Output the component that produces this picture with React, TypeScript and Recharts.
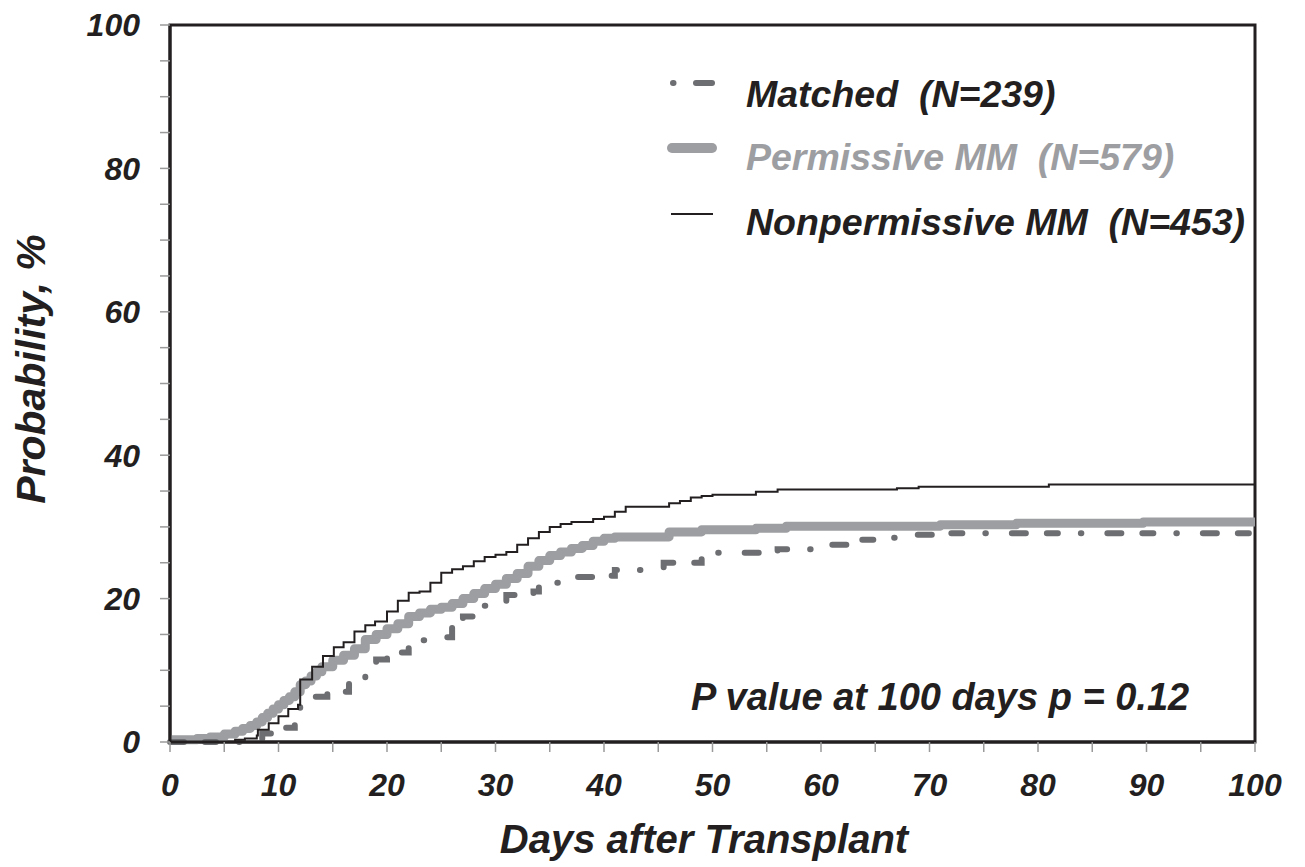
import React from "react";
import { ComposedChart, Line, XAxis, YAxis, ReferenceArea } from "recharts";

const FONT = '"Liberation Sans", Arial, Helvetica, sans-serif';

// Tick values
const xTicks = [0, 5, 10, 15, 20, 25, 30, 35, 40, 45, 50, 55, 60, 65, 70, 75, 80, 85, 90, 95, 100];
const xLabels = [0, 10, 20, 30, 40, 50, 60, 70, 80, 90, 100];
const yTicks = [0, 5, 10, 15, 20, 25, 30, 35, 40, 45, 50, 55, 60, 65, 70, 75, 80, 85, 90, 95, 100];
const yLabels = [0, 20, 40, 60, 80, 100];

// Matched (N=239)
const matchedDays = [0, 7, 8.5, 9.5, 11.5, 12, 12.6, 14.5, 16.5, 17, 18, 19, 20, 21, 22, 23, 24.5, 26, 27, 28, 29, 30, 31, 33.5, 34, 36, 40.5, 41, 43.5, 45.5, 49, 56, 61, 63.5, 66.5, 68, 72, 100];
const matchedProb = [0, 0.4, 1.2, 2, 2.5, 5.5, 6.3, 7, 8.5, 9, 10.5, 11.5, 12.2, 12.5, 13.5, 14.2, 14.6, 17, 17.5, 18.4, 19, 19.5, 20.5, 21, 22.2, 23, 23.2, 24, 24.3, 25, 26.4, 26.9, 27.5, 28.2, 28.5, 28.9, 29.1, 29.2];

// Permissive MM (N=579)
const permDays = [0, 1, 2.5, 3.7, 5, 6, 6.7, 7.4, 8, 8.5, 9, 9.5, 10, 10.5, 11, 11.5, 12, 12.5, 13, 13.5, 14, 15, 16, 17, 18, 19, 20, 21, 22, 23, 24, 25, 26, 27, 28, 29, 30, 31, 32, 33, 34, 35, 36, 37, 38, 39, 40, 41, 45.5, 46, 49, 54, 56.8, 71, 78, 89.7, 100];
const permProb = [0.3, 0.3, 0.5, 0.7, 1.1, 1.5, 1.9, 2.3, 2.8, 3.4, 4, 4.6, 5.2, 5.8, 6.3, 7, 8, 8.5, 9.2, 9.8, 10.5, 11.4, 12.1, 13, 14.3, 15, 15.8, 16.5, 17.5, 18, 18.5, 18.8, 19.3, 20, 20.7, 21.4, 22, 22.8, 23.5, 24.5, 25.3, 26, 26.5, 27, 27.4, 28, 28.4, 28.6, 28.6, 29.3, 29.6, 29.8, 30.1, 30.3, 30.5, 30.7, 30.7];

// Nonpermissive MM (N=453)
const nonpermDays = [0, 6, 6.9, 8, 8.1, 9.1, 10, 10.9, 11.8, 12, 13.1, 14.1, 15.1, 16, 17, 18, 18.9, 20, 21, 22, 23, 24, 25, 26, 27, 28, 29, 30, 31, 32, 33, 34, 35, 36, 37, 39, 40, 41, 42, 46, 47, 48, 49, 50, 54, 56, 67, 69, 81, 100];
const nonpermProb = [0, 0.3, 0.5, 0.9, 1.7, 2.6, 3.6, 4.6, 5.2, 8.7, 10.5, 12, 13.2, 13.9, 15.4, 16.3, 16.8, 18.2, 19.7, 20.8, 21, 22.2, 23.6, 24.1, 24.5, 25.2, 25.8, 26.1, 26.5, 27.5, 28.4, 29.3, 30, 30.4, 30.7, 31.1, 31.4, 32.1, 32.8, 33.3, 33.6, 34.1, 34.3, 34.5, 34.9, 35.2, 35.4, 35.6, 35.9, 35.9];

const toPoints = (days: number[], prob: number[]) => days.map((d, i) => ({ day: d, prob: prob[i] }));

const matchedPts = toPoints(matchedDays, matchedProb);
const permPts = toPoints(permDays, permProb);
const nonpermPts = toPoints(nonpermDays, nonpermProb);

const C_MATCHED = "#6d6e71";
const C_PERM = "#9d9ea1";
const C_NONPERM = "#231f20";
const C_TEXT = "#231f20";

const labelStyle = {
  fontFamily: FONT,
  fontWeight: 700,
  fontStyle: "italic" as const,
};

const XTick = (props: any) => {
  const { x, y, payload } = props;
  if (!xLabels.includes(payload.value)) return <g />;
  return (
    <text x={x} y={y} dy="0.71em" textAnchor="middle" fontSize={32} fill={C_TEXT} style={labelStyle}>
      {payload.value}
    </text>
  );
};

const YTick = (props: any) => {
  const { x, y, payload } = props;
  if (!yLabels.includes(payload.value)) return <g />;
  return (
    <text x={x} y={y} dy="0.355em" textAnchor="end" fontSize={32} fill={C_TEXT} style={labelStyle}>
      {payload.value}
    </text>
  );
};

export default function App() {
  return (
    <div style={{ position: "absolute", left: 0, top: 0, width: 1305, height: 867, background: "#fff" }}>
      <ComposedChart width={1305} height={867} margin={{ top: 25, right: 50, bottom: 0, left: 0 }}>
        <XAxis
          dataKey="day"
          type="number"
          domain={[0, 100]}
          ticks={xTicks}
          interval={0}
          allowDuplicatedCategory={false}
          height={125}
          tickSize={10}
          tickMargin={21}
          tick={<XTick />}
          tickLine={{ stroke: "#9a9a9a", strokeWidth: 1.5 }}
          axisLine={{ stroke: C_NONPERM, strokeWidth: 3 }}
        />
        <YAxis
          type="number"
          domain={[0, 100]}
          ticks={yTicks}
          interval={0}
          width={170}
          tickSize={10}
          tickMargin={20}
          tick={<YTick />}
          tickLine={{ stroke: "#9a9a9a", strokeWidth: 1.5 }}
          axisLine={{ stroke: C_NONPERM, strokeWidth: 3 }}
        />
        <Line
          data={permPts}
          dataKey="prob"
          type="stepAfter"
          stroke={C_PERM}
          strokeWidth={9}
          strokeLinejoin="round"
          dot={false}
          activeDot={false}
          isAnimationActive={false}
        />
        <Line
          data={matchedPts}
          dataKey="prob"
          type="stepAfter"
          stroke={C_MATCHED}
          strokeWidth={6}
          strokeDasharray="14 21 11 23 0.5 26"
          strokeLinecap="round"
          dot={false}
          activeDot={false}
          isAnimationActive={false}
        />
        <Line
          data={nonpermPts}
          dataKey="prob"
          type="stepAfter"
          stroke={C_NONPERM}
          strokeWidth={2}
          dot={false}
          activeDot={false}
          isAnimationActive={false}
        />
        <ReferenceArea
          x1={0}
          x2={100}
          y1={0}
          y2={100}
          fill="none"
          fillOpacity={0}
          stroke={C_NONPERM}
          strokeWidth={3}
          ifOverflow="visible"
        />
      </ComposedChart>
      <svg
        width={1305}
        height={867}
        style={{ position: "absolute", left: 0, top: 0, pointerEvents: "none" }}
      >
        {/* Legend */}
        <line x1={673} y1={83} x2={673.5} y2={83} stroke={C_MATCHED} strokeWidth={6} strokeLinecap="round" />
        <line x1={696} y1={83} x2={712} y2={83} stroke={C_MATCHED} strokeWidth={6} strokeLinecap="round" />
        <text x={746} y={107} fontSize={37.5} fill={C_TEXT} style={labelStyle}>
          {"Matched\u00A0\u00A0(N=239)"}
        </text>
        <line x1={672} y1={148} x2={712} y2={148} stroke={C_PERM} strokeWidth={10} strokeLinecap="round" />
        <text x={746} y={170} fontSize={37.5} fill={C_PERM} style={labelStyle}>
          {"Permissive MM\u00A0\u00A0(N=579)"}
        </text>
        <line x1={671} y1={214} x2={713} y2={214} stroke={C_NONPERM} strokeWidth={2} />
        <text x={746} y={235} fontSize={37.5} fill={C_TEXT} style={labelStyle}>
          {"Nonpermissive MM\u00A0\u00A0(N=453)"}
        </text>
        {/* P value annotation */}
        <text x={691} y={710} fontSize={38} fill={C_TEXT} style={labelStyle}>
          P value at 100 days p = 0.12
        </text>
        {/* Axis titles */}
        <text x={704} y={853} fontSize={40} textAnchor="middle" fill={C_TEXT} style={labelStyle}>
          Days after Transplant
        </text>
        <text
          x={45}
          y={369}
          fontSize={41}
          textAnchor="middle"
          fill={C_TEXT}
          style={labelStyle}
          transform="rotate(-90, 45, 369)"
        >
          Probability, %
        </text>
      </svg>
    </div>
  );
}
